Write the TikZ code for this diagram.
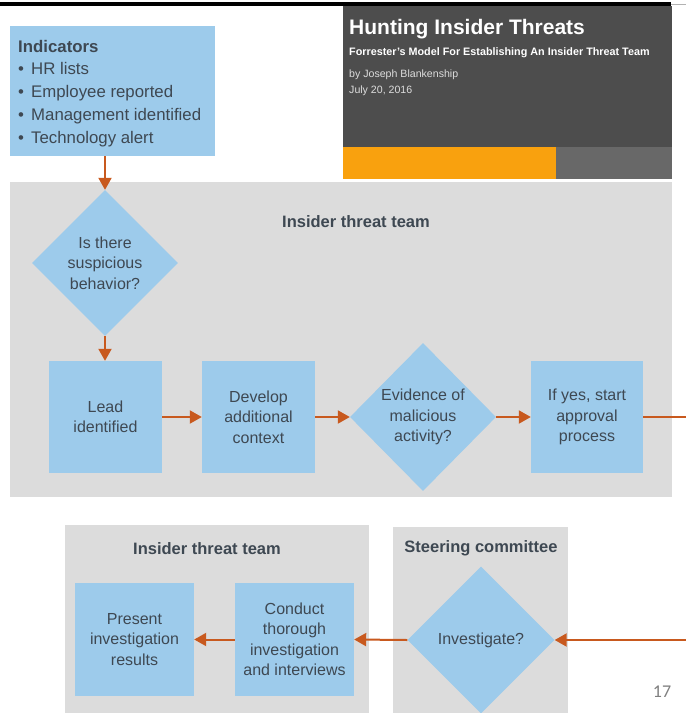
\documentclass[tikz,border=0pt]{standalone}
\usepackage{fontspec}
\setmainfont{Liberation Sans}
\newfontfamily\calib{Carlito}
\usetikzlibrary{shapes.geometric,arrows.meta}
\definecolor{boxblue}{HTML}{9DCBEB}
\definecolor{panelgray}{HTML}{DCDCDC}
\definecolor{arr}{HTML}{C8591E}
\definecolor{txtc}{HTML}{3E4852}
\definecolor{hdr}{HTML}{4D4D4D}
\definecolor{org}{HTML}{F9A10E}
\definecolor{hgray}{HTML}{686868}
\definecolor{hsub}{HTML}{DDDDDD}
\newcommand{\indbul}{\makebox[13pt][l]{•}}
\begin{document}
\begin{tikzpicture}[x=1pt,y=-1pt,
  procbox/.style={draw=none, fill=boxblue, inner sep=0, align=center,
    text=txtc, font=\fontsize{16}{20.5}\selectfont},
  decis/.style={shape=diamond, draw=none, fill=boxblue, inner sep=0, aspect=1},
  dtext/.style={align=center, text=txtc, font=\fontsize{16}{20.5}\selectfont, inner sep=0},
  paneltitle/.style={text=txtc, font=\bfseries\fontsize{16.5}{19}\selectfont, inner sep=0},
  indline/.style={text=txtc, font=\fontsize{16.8}{20}\selectfont, inner sep=0, anchor=base west},
  flow/.style={draw=arr, line width=2pt, -{Triangle[length=12pt,width=13pt]}},
  plainflow/.style={draw=arr, line width=2pt}
]
\useasboundingbox (0,0) rectangle (686,713);
\fill[white] (0,0) rectangle (686,713);
% top rule
\fill[black] (0,1.5) rectangle (671,6);
\draw[gray!60, line width=1pt] (671,4) -- (686,4);
% header panel
\fill[hdr] (343,6) rectangle (672,147);
\fill[org] (343,147) rectangle (556,179);
\fill[hgray] (556,147) rectangle (672,179);
\node[anchor=base west, text=white, font=\bfseries\fontsize{21}{24}\selectfont, inner sep=0] (title) at (349,34) {Hunting Insider Threats};
\node[anchor=base west, text=white, font=\bfseries\fontsize{10.8}{12}\selectfont, inner sep=0] (subtitle) at (349,55) {Forrester's Model For Establishing An Insider Threat Team};
\node[anchor=base west, text=hsub, font=\fontsize{10.6}{12}\selectfont, inner sep=0] (author) at (349,77) {by Joseph Blankenship};
\node[anchor=base west, text=hsub, font=\fontsize{10.6}{12}\selectfont, inner sep=0] (date) at (349,93) {July 20, 2016};
% panels
\fill[panelgray] (10,182) rectangle (672,497);
\fill[panelgray] (65,525) rectangle (369,713);
\fill[panelgray] (393,527) rectangle (568,713);
% indicators
\node[procbox, minimum width=205pt, minimum height=130pt] (ind) at (112.5,91) {};
\node[indline, font=\bfseries\fontsize{16.8}{20}\selectfont] (indt) at (18,52) {Indicators};
\node[indline] (i1) at (18,74) {\indbul HR lists};
\node[indline] (i2) at (18,97) {\indbul Employee reported};
\node[indline] (i3) at (18,120) {\indbul Management identified};
\node[indline] (i4) at (18,143) {\indbul Technology alert};
% upper panel
\node[paneltitle] (team1) at (356,222) {Insider threat team};
\node[decis, minimum width=146pt, minimum height=146pt] (d1) at (105,263) {};
\node[dtext] (d1t) at (d1) {Is there\\suspicious\\behavior?};
\node[procbox, minimum width=113pt, minimum height=112pt] (lead) at (105.5,417) {Lead\\identified};
\node[procbox, minimum width=113pt, minimum height=112pt] (dev) at (258.5,417) {Develop\\additional\\context};
\node[decis, minimum width=146pt, minimum height=148pt] (d2) at (423,417) {};
\node[dtext] (d2t) at (d2) {Evidence of\\malicious\\activity?};
\node[procbox, minimum width=112pt, minimum height=112pt] (appr) at (587,417) {If yes, start\\approval\\process};
\coordinate (outR) at (686,417);
% lower panels
\node[paneltitle] (team2) at (207,549) {Insider threat team};
\node[paneltitle] (steer) at (481,548) {Steering committee};
\node[decis, minimum width=147pt, minimum height=147pt] (d3) at (481,640) {};
\node[dtext] (d3t) at (d3) {Investigate?};
\node[procbox, minimum width=119pt, minimum height=113pt] (cond) at (294.5,639.5) {Conduct\\thorough\\investigation\\and interviews};
\node[procbox, minimum width=119pt, minimum height=113pt] (pres) at (134.5,639.5) {Present\\investigation\\results};
\coordinate (inR) at (686,640);
% connectors
\draw[flow] (ind.south -| d1.north) -- (d1.north);
\draw[flow] (d1.south) -- (lead.north -| d1.south);
\draw[flow] (lead.east) -- (dev.west);
\draw[flow] (dev.east) -- (d2.west);
\draw[flow] (d2.east) -- (appr.west);
\draw[plainflow] (appr.east) -- (outR);
\draw[flow] (inR) -- (d3.east);
\draw[flow] (d3.west) -- (cond.east);
\draw[flow] (cond.west) -- (pres.east);
% page number
\node[anchor=base, text=gray, font=\calib\fontsize{18}{20}\selectfont, inner sep=0] (pnum) at (662,697) {17};
\end{tikzpicture}
\end{document}
